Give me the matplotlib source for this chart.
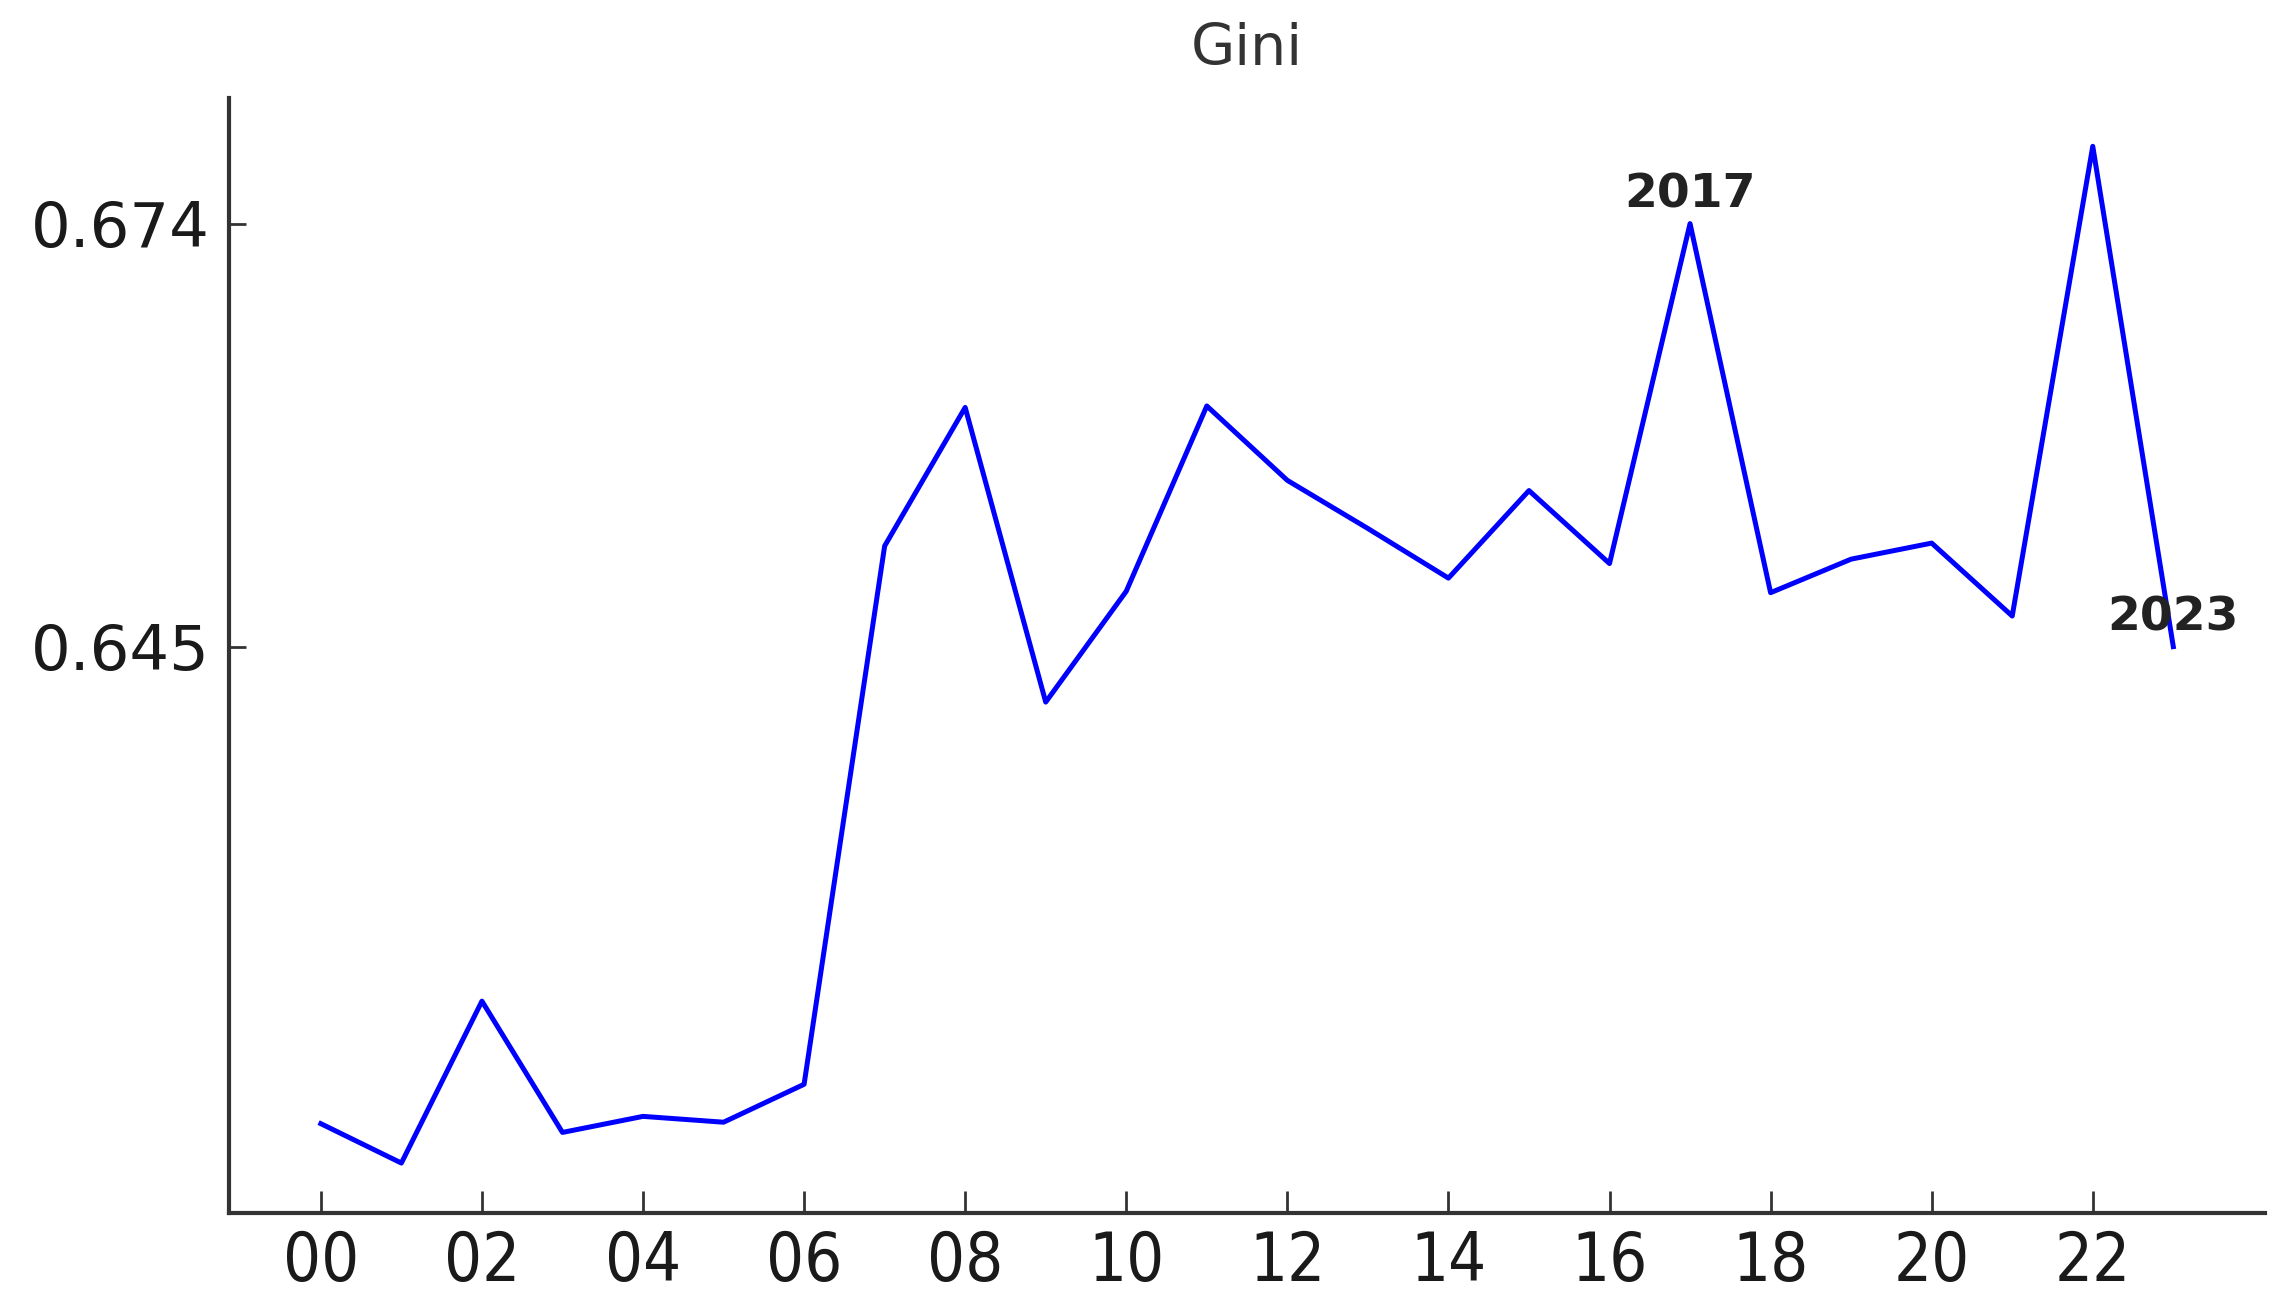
import matplotlib
matplotlib.use("Agg")
import matplotlib.pyplot as plt

years = list(range(2000, 2024))
gini = [0.6123, 0.6096, 0.6207, 0.6117, 0.6128, 0.6124, 0.6150, 0.6519,
        0.6614, 0.6412, 0.6488, 0.6615, 0.6564, 0.6531, 0.6497, 0.6557,
        0.6507, 0.6740, 0.6487, 0.6510, 0.6521, 0.6471, 0.6793, 0.6450]
xtick_years = list(range(2000, 2023, 2))
xtick_labels = [f"{y % 100:02d}" for y in xtick_years]
ytick_vals = [0.645, 0.674]
ytick_labels = ["0.645", "0.674"]
annot_years = [2017, 2023]
annot_labels = ["2017", "2023"]

fig = plt.figure(figsize=(22.88, 13.09), dpi=100)
ax = fig.add_axes([0.1001, 0.0736, 0.8899, 0.8514])

ax.plot(years, gini, color="#0000ff", linewidth=3.6)

ax.set_xlim(1998.86, 2024.14)
ax.set_ylim(0.6062, 0.6826)
ax.set_xticks(xtick_years)
ax.set_xticklabels(xtick_labels, fontsize=48, fontstretch="condensed", color="#1a1a1a")
ax.set_yticks(ytick_vals)
ax.set_yticklabels(ytick_labels, fontsize=45, color="#1a1a1a")
ax.tick_params(axis="both", direction="in", width=2.0, colors="#333333", labelcolor="#1a1a1a")
ax.tick_params(axis="x", length=16, pad=12)
ax.tick_params(axis="y", length=12, pad=14)

for s in ["top", "right"]:
    ax.spines[s].set_visible(False)
for s in ["left", "bottom"]:
    ax.spines[s].set_color("#333333")
    ax.spines[s].set_linewidth(3.0)

for yr, lab in zip(annot_years, annot_labels):
    v = gini[years.index(yr)]
    ax.annotate(lab, xy=(yr, v), xytext=(0, 29), textcoords="offset pixels",
                ha="center", va="center", fontsize=34, fontweight="bold", color="#222222")

ax.set_title("Gini", fontsize=41, color="#333333", pad=24)

fig.savefig("out.png", dpi=100)
